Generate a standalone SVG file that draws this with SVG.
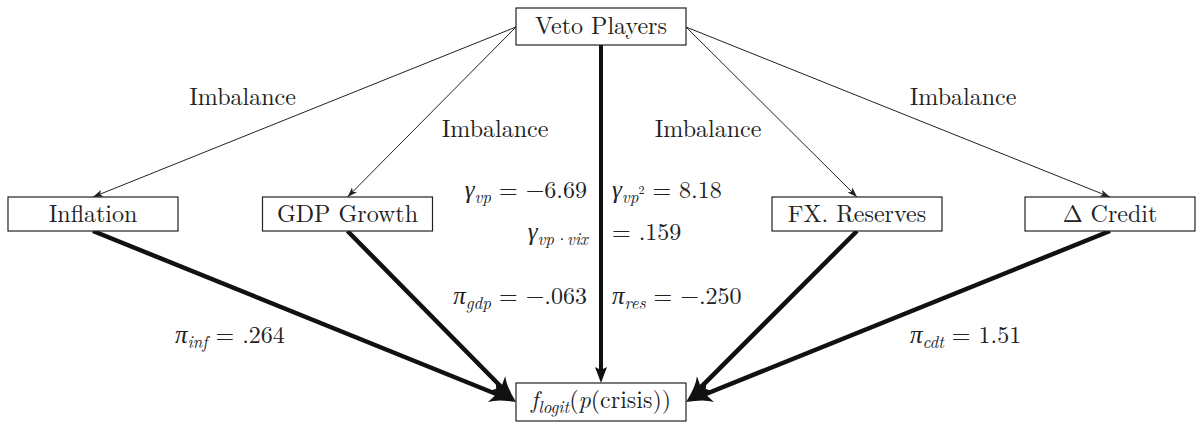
<svg xmlns="http://www.w3.org/2000/svg" width="1198" height="428" viewBox="0 0 1198 428">
<style>
.box{fill:#fff;stroke:#222;stroke-width:1.2}
.thin{stroke:#222;stroke-width:1;fill:none}
.thick{stroke:#111;stroke-width:4.5;fill:none}
.vert{stroke:#111;stroke-width:4;fill:none}
</style>
<defs>
<marker id="ah-thin" markerUnits="userSpaceOnUse" markerWidth="12" markerHeight="9" refX="10" refY="3.5" orient="auto">
<path d="M0,0 L10,3.5 L0,7 L2.5,3.5 z" fill="#222"/>
</marker>
<marker id="ah-thick" markerUnits="userSpaceOnUse" markerWidth="28" markerHeight="24" refX="12" refY="11" orient="auto">
<path d="M0,0.5 Q8,7 26,11 Q8,15 0,21.5 L5,11 z" fill="#111"/>
</marker>
<marker id="ah-vert" markerUnits="userSpaceOnUse" markerWidth="18" markerHeight="14" refX="6" refY="6" orient="auto">
<path d="M0,0 L16,6 L0,12 L3,6 z" fill="#111"/>
</marker>
</defs>

<g id="connectors">
<line class="thin" x1="516" y1="27" x2="93" y2="197" marker-end="url(#ah-thin)"/>
<line class="thin" x1="516" y1="27" x2="347.5" y2="197" marker-end="url(#ah-thin)"/>
<line class="thin" x1="686" y1="27" x2="857" y2="197" marker-end="url(#ah-thin)"/>
<line class="thin" x1="686" y1="27" x2="1110" y2="197" marker-end="url(#ah-thin)"/>
<line class="thick" x1="93" y1="231" x2="503" y2="396.75" marker-end="url(#ah-thick)"/>
<line class="thick" x1="347.5" y1="231" x2="506.2" y2="392" marker-end="url(#ah-thick)"/>
<line class="thick" x1="857" y1="231" x2="695.9" y2="392.1" marker-end="url(#ah-thick)"/>
<line class="thick" x1="1110" y1="231" x2="699" y2="396.75" marker-end="url(#ah-thick)"/>
<line class="vert" x1="601" y1="45" x2="601" y2="373" marker-end="url(#ah-vert)"/>
<text font-family="Latin Modern Roman, Liberation Serif, serif" font-size="24" fill="#222" text-anchor="middle" x="242.5" y="105">Imbalance</text>
<text font-family="Latin Modern Roman, Liberation Serif, serif" font-size="24" fill="#222" text-anchor="middle" x="495" y="137">Imbalance</text>
<text font-family="Latin Modern Roman, Liberation Serif, serif" font-size="24" fill="#222" text-anchor="middle" x="708" y="137">Imbalance</text>
<text font-family="Latin Modern Roman, Liberation Serif, serif" font-size="24" fill="#222" text-anchor="middle" x="963" y="105">Imbalance</text>
<text font-family="Latin Modern Roman, Liberation Serif, serif" font-size="24" fill="#222" x="587" y="198" text-anchor="end"><tspan font-family="Liberation Serif, serif" font-style="italic" font-size="25">γ</tspan><tspan font-style="italic" font-size="17" dy="5">vp</tspan><tspan dy="-5"> = −6.69</tspan></text>
<text font-family="Latin Modern Roman, Liberation Serif, serif" font-size="24" fill="#222" x="612" y="198"><tspan font-family="Liberation Serif, serif" font-style="italic" font-size="25">γ</tspan><tspan font-style="italic" font-size="17" dy="5">vp</tspan><tspan font-size="12" dy="-9">2</tspan><tspan dy="4"> = 8.18</tspan></text>
<text font-family="Latin Modern Roman, Liberation Serif, serif" font-size="24" fill="#222" x="588" y="240" text-anchor="end"><tspan font-family="Liberation Serif, serif" font-style="italic" font-size="25">γ</tspan><tspan font-style="italic" font-size="17" dy="5">vp·vix</tspan></text>
<text font-family="Latin Modern Roman, Liberation Serif, serif" font-size="24" fill="#222" x="612" y="240">= .159</text>
<text font-family="Latin Modern Roman, Liberation Serif, serif" font-size="24" fill="#222" x="587" y="304" text-anchor="end"><tspan font-family="Liberation Serif, serif" font-style="italic" font-size="25">π</tspan><tspan font-style="italic" font-size="17" dy="5">gdp</tspan><tspan dy="-5"> = −.063</tspan></text>
<text font-family="Latin Modern Roman, Liberation Serif, serif" font-size="24" fill="#222" x="612" y="304"><tspan font-family="Liberation Serif, serif" font-style="italic" font-size="25">π</tspan><tspan font-style="italic" font-size="17" dy="5">res</tspan><tspan dy="-5"> = −.250</tspan></text>
<text font-family="Latin Modern Roman, Liberation Serif, serif" font-size="24" fill="#222" x="175" y="343"><tspan font-family="Liberation Serif, serif" font-style="italic" font-size="25">π</tspan><tspan font-style="italic" font-size="17" dy="5">inf</tspan><tspan dy="-5"> = .264</tspan></text>
<text font-family="Latin Modern Roman, Liberation Serif, serif" font-size="24" fill="#222" x="910" y="343"><tspan font-family="Liberation Serif, serif" font-style="italic" font-size="25">π</tspan><tspan font-style="italic" font-size="17" dy="5">cdt</tspan><tspan dy="-5"> = 1.51</tspan></text>
</g>

<g id="veto">
<rect class="box" x="516" y="8" width="170" height="37"/>
<text font-family="Latin Modern Roman, Liberation Serif, serif" font-size="24" fill="#222" text-anchor="middle" x="601" y="34">Veto Players</text>
</g>
<g id="inflation">
<rect class="box" x="8" y="197" width="170" height="34"/>
<text font-family="Latin Modern Roman, Liberation Serif, serif" font-size="24" fill="#222" text-anchor="middle" x="93" y="222">Inflation</text>
</g>
<g id="gdp">
<rect class="box" x="262.5" y="197" width="170" height="34"/>
<text font-family="Latin Modern Roman, Liberation Serif, serif" font-size="24" fill="#222" text-anchor="middle" x="347.5" y="222">GDP Growth</text>
</g>
<g id="fx">
<rect class="box" x="772" y="197" width="170" height="34"/>
<text font-family="Latin Modern Roman, Liberation Serif, serif" font-size="24" fill="#222" text-anchor="middle" x="857" y="222">FX. Reserves</text>
</g>
<g id="credit">
<rect class="box" x="1025" y="197" width="170" height="34"/>
<text font-family="Latin Modern Roman, Liberation Serif, serif" font-size="24" fill="#222" text-anchor="middle" x="1110" y="222">Δ Credit</text>
</g>
<g id="crisis">
<rect class="box" x="516" y="383" width="170" height="38"/>
<text font-family="Latin Modern Roman, Liberation Serif, serif" font-size="24" fill="#222" text-anchor="middle" x="601" y="408"><tspan font-style="italic">f</tspan><tspan font-style="italic" font-size="17" dy="5">logit</tspan><tspan dy="-5">(</tspan><tspan font-style="italic">p</tspan><tspan>(crisis))</tspan></text>
</g>
</svg>
